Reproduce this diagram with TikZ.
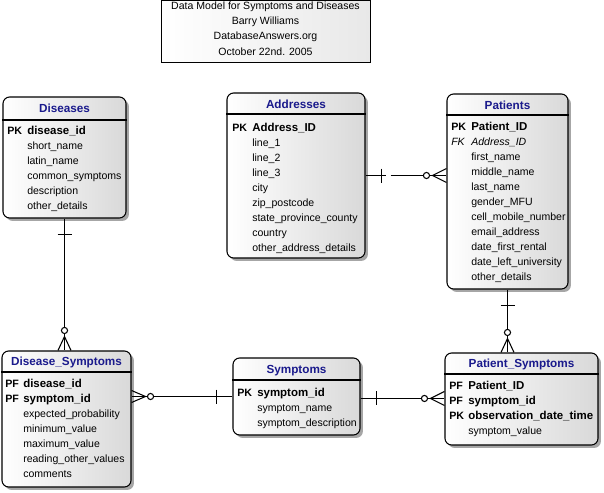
\documentclass[tikz,border=0pt]{standalone}
\usepackage{fontspec}
\setmainfont{Liberation Sans}
\usetikzlibrary{fit,shadows,calc}
\definecolor{navy}{RGB}{26,26,140}
\begin{document}
\begin{tikzpicture}[x=0.75pt,y=-0.75pt,
  ent/.style={draw=black, line width=0.8pt, rounded corners=5pt, left color=white, right color=gray!30, inner sep=0pt,
    drop shadow={shadow xshift=2.2pt, shadow yshift=-2.2pt, fill=gray!70, opacity=1}},
  tblock/.style={draw=black, line width=0.7pt, left color=white, right color=gray!18, inner sep=0pt},
  sep/.style={line width=0.8pt},
  ttl/.style={font=\fontsize{8.8}{10}\selectfont\bfseries, text=navy, inner sep=0pt, yshift=-0.6pt},
  hdr/.style={font=\fontsize{7.9}{9}\selectfont, inner sep=0pt},
  txt/.style={anchor=west, inner sep=0pt, text height=6pt, text depth=1.8pt, yshift=-1.2pt},
  fld/.style={txt, font=\fontsize{7.9}{9}\selectfont},
  kfld/.style={txt, font=\fontsize{8.6}{10}\selectfont\bfseries},
  klab/.style={txt, font=\fontsize{8}{10}\selectfont\bfseries},
  ifld/.style={txt, font=\fontsize{7.9}{9}\selectfont\itshape},
  conn/.style={line width=0.8pt},
]
\useasboundingbox (0,0) rectangle (604,493);

% title block
\node[tblock, fit={(161,0.5) (370,62)}] (tb) {};
\node[hdr] (tb1) at (265.5,7) {Data Model for Symptoms and Diseases};
\node[hdr] (tb2) at (265.5,22) {Barry Williams};
\node[hdr] (tb3) at (265.5,37) {DatabaseAnswers.org};
\node[hdr] (tb4) at (265.5,52) {October 22nd. 2005};

% Diseases
\node[ent, fit={(3,97) (126,218)}] (dis) {};
\draw[sep] (dis.west |- 0,120) -- (dis.east |- 0,120);
\node[ttl] (dist) at (64.5,108) {Diseases};
\node[klab] (dk1) at (7,130) {PK};
\node[kfld] (df1) at (27,130) {disease\_id};
\node[fld] (df2) at (27,145) {short\_name};
\node[fld] (df3) at (27,160) {latin\_name};
\node[fld] (df4) at (27,175) {common\_symptoms};
\node[fld] (df5) at (27,190) {description};
\node[fld] (df6) at (27,205) {other\_details};

% Addresses
\node[ent, fit={(227,93) (365,258)}] (addr) {};
\draw[sep] (addr.west |- 0,114) -- (addr.east |- 0,114);
\node[ttl] (addrt) at (296,104) {Addresses};
\node[klab] (ak1) at (232,127) {PK};
\node[kfld] (af1) at (252,127) {Address\_ID};
\node[fld] (af2) at (252,142) {line\_1};
\node[fld] (af3) at (252,157) {line\_2};
\node[fld] (af4) at (252,172) {line\_3};
\node[fld] (af5) at (252,187) {city};
\node[fld] (af6) at (252,202) {zip\_postcode};
\node[fld] (af7) at (252,217) {state\_province\_county};
\node[fld] (af8) at (252,232) {country};
\node[fld] (af9) at (252,247) {other\_address\_details};

% Patients
\node[ent, fit={(447,94) (568,289)}] (pat) {};
\draw[sep] (pat.west |- 0,115) -- (pat.east |- 0,115);
\node[ttl] (patt) at (507.5,105) {Patients};
\node[klab] (pk1) at (451,126) {PK};
\node[kfld] (pf1) at (471,126) {Patient\_ID};
\node[ifld] (pk2) at (451,141) {FK};
\node[ifld] (pf2) at (471,141) {Address\_ID};
\node[fld] (pf3) at (471,156) {first\_name};
\node[fld] (pf4) at (471,171) {middle\_name};
\node[fld] (pf5) at (471,186) {last\_name};
\node[fld] (pf6) at (471,201) {gender\_MFU};
\node[fld] (pf7) at (471,216) {cell\_mobile\_number};
\node[fld] (pf8) at (471,231) {email\_address};
\node[fld] (pf9) at (471,246) {date\_first\_rental};
\node[fld] (pf10) at (471,261) {date\_left\_university};
\node[fld] (pf11) at (471,276) {other\_details};

% Disease_Symptoms
\node[ent, fit={(2,351) (131,487)}] (ds) {};
\draw[sep] (ds.west |- 0,372) -- (ds.east |- 0,372);
\node[ttl] (dst) at (66.5,362) {Disease\_Symptoms};
\node[klab] (dsk1) at (5,383) {PF};
\node[kfld] (dsf1) at (23,383) {disease\_id};
\node[klab] (dsk2) at (5,398) {PF};
\node[kfld] (dsf2) at (23,398) {symptom\_id};
\node[fld] (dsf3) at (23,413) {expected\_probability};
\node[fld] (dsf4) at (23,428) {minimum\_value};
\node[fld] (dsf5) at (23,443) {maximum\_value};
\node[fld] (dsf6) at (23,458) {reading\_other\_values};
\node[fld] (dsf7) at (23,473) {comments};

% Symptoms
\node[ent, fit={(233,358) (360,435)}] (sym) {};
\draw[sep] (sym.west |- 0,380) -- (sym.east |- 0,380);
\node[ttl] (symt) at (296.5,370) {Symptoms};
\node[klab] (sk1) at (237,392) {PK};
\node[kfld] (sf1) at (257,392) {symptom\_id};
\node[fld] (sf2) at (257,407) {symptom\_name};
\node[fld] (sf3) at (257,422) {symptom\_description};

% Patient_Symptoms
\node[ent, fit={(445,353) (598,445)}] (ps) {};
\draw[sep] (ps.west |- 0,374) -- (ps.east |- 0,374);
\node[ttl] (pst) at (521.5,364) {Patient\_Symptoms};
\node[klab] (psk1) at (449,385) {PF};
\node[kfld] (psf1) at (468,385) {Patient\_ID};
\node[klab] (psk2) at (449,400) {PF};
\node[kfld] (psf2) at (468,400) {symptom\_id};
\node[klab] (psk3) at (449,415) {PK};
\node[kfld] (psf3) at (468,415) {observation\_date\_time};
\node[fld] (psf4) at (468,430) {symptom\_value};

% ---------- connectors ----------
% Diseases -> Disease_Symptoms
\coordinate (a1) at (dis.south);
\coordinate (a2) at (dis.south |- ds.north);
\draw[conn] (a1) -- (a2);
\draw[conn] ([shift={(-7,16)}]a1) -- ([shift={(7,16)}]a1);
\draw[conn] ([shift={(-6.5,0)}]a2) -- ([shift={(0,-14)}]a2) -- ([shift={(6.5,0)}]a2);
\draw[conn, fill=white] ([shift={(0,-20)}]a2) circle (2.3pt);

% Addresses -> Patients
\coordinate (b1) at (addr.east);
\coordinate (b2) at (addr.east -| pat.west);
\draw[conn] (b1) -- ([shift={(20,0)}]b1);
\draw[conn] ([shift={(25,0)}]b1) -- (b2);
\draw[conn] ([shift={(16,-7)}]b1) -- ([shift={(16,7)}]b1);
\draw[conn] ([shift={(0,-7)}]b2) -- ([shift={(-14,0)}]b2) -- ([shift={(0,7)}]b2);
\draw[conn, fill=white] ([shift={(-20,0)}]b2) circle (2.3pt);

% Symptoms -> Disease_Symptoms
\coordinate (c1) at (sym.west);
\coordinate (c2) at (sym.west -| ds.east);
\draw[conn] (c1) -- (c2);
\draw[conn] ([shift={(-16,-7)}]c1) -- ([shift={(-16,7)}]c1);
\draw[conn] ([shift={(0,-6)}]c2) -- ([shift={(14,0)}]c2) -- ([shift={(0,6)}]c2);
\draw[conn, fill=white] ([shift={(19,0)}]c2) circle (2.3pt);

% Symptoms -> Patient_Symptoms
\coordinate (d2) at ([yshift=0.4pt]ps.west);
\coordinate (d1) at (d2 -| sym.east);
\draw[conn] (d1) -- (d2);
\draw[conn] ([shift={(16,-7)}]d1) -- ([shift={(16,7)}]d1);
\draw[conn] ([shift={(0,-7)}]d2) -- ([shift={(-14,0)}]d2) -- ([shift={(0,7)}]d2);
\draw[conn, fill=white] ([shift={(-20,0)}]d2) circle (2.3pt);

% Patients -> Patient_Symptoms
\coordinate (e1) at (pat.south);
\coordinate (e2) at (pat.south |- ps.north);
\draw[conn] (e1) -- (e2);
\draw[conn] ([shift={(-7,16)}]e1) -- ([shift={(7,16)}]e1);
\draw[conn] ([shift={(-6.5,0)}]e2) -- ([shift={(0,-14)}]e2) -- ([shift={(6.5,0)}]e2);
\draw[conn, fill=white] ([shift={(0,-20)}]e2) circle (2.3pt);
\end{tikzpicture}
\end{document}
